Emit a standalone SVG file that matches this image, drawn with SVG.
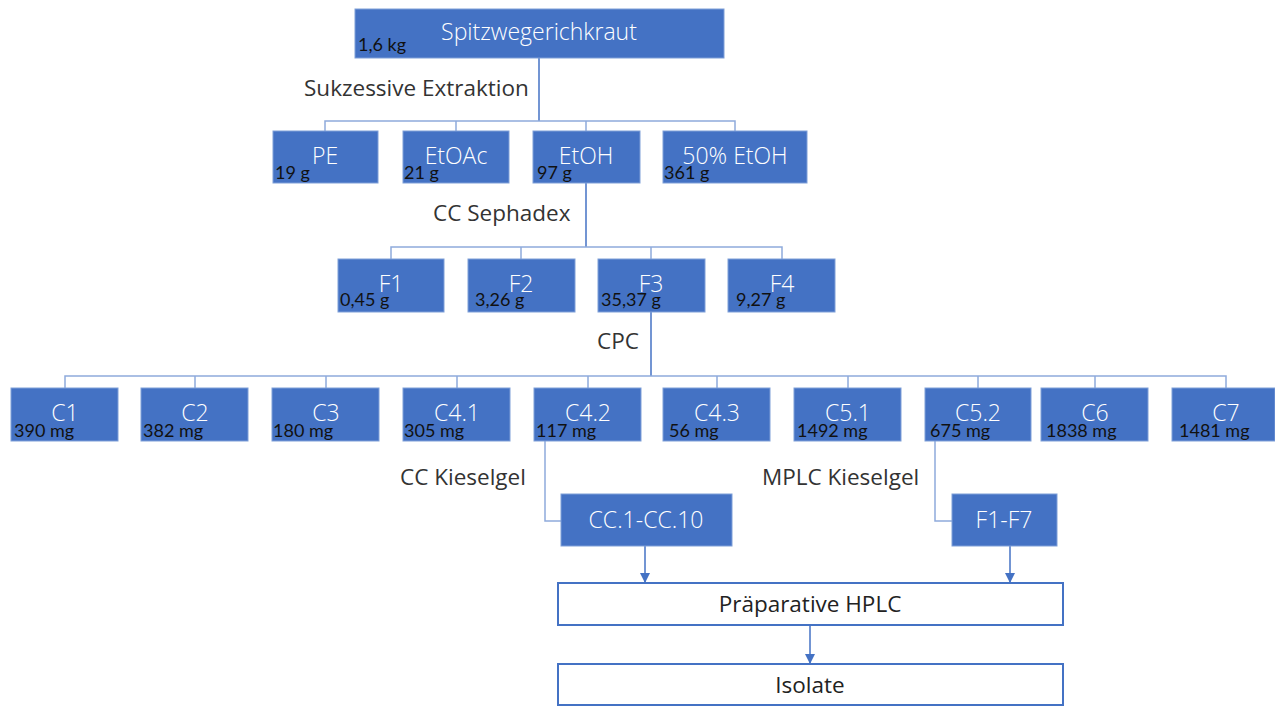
<svg xmlns="http://www.w3.org/2000/svg" width="1275" height="708" viewBox="0 0 1275 708">
<style>
.b{fill:#4472C4;stroke:#7E9FD8;stroke-width:1}
.w{fill:#FFFFFF;stroke:#4472C4;stroke-width:2}
.t{font-family:"Open Sans","Liberation Sans",sans-serif;font-size:23px;font-weight:300;fill:#FFFFFF;text-anchor:middle}
.tk{font-family:"Open Sans","Liberation Sans",sans-serif;font-size:22.5px;fill:#222222;text-anchor:middle}
.n{font-family:Lato,"Liberation Sans",sans-serif;font-size:18px;fill:#111111}
.l{font-family:"Open Sans","Liberation Sans",sans-serif;font-size:22.5px;fill:#333333}
.c{fill:none;stroke:#8FAADC;stroke-width:1.5}
.m{fill:none;stroke:#4472C4;stroke-width:1.5}
</style>
<defs>
<marker id="ah" markerWidth="10" markerHeight="10" refX="9" refY="5" orient="auto" markerUnits="userSpaceOnUse" viewBox="0 0 10 10">
<path d="M0,0 L10,5 L0,10 z" fill="#4472C4"/>
</marker>
</defs>
<g id="connectors">
<path class="m" d="M539,58 V121"/>
<path class="c" d="M325,131 V121 H735 V131 M456,121 V131 M586,121 V131"/>
<path class="m" d="M586,183 V247"/>
<path class="c" d="M391,259 V247 H782 V259 M521,247 V259 M651,247 V259"/>
<path class="m" d="M651,312 V376"/>
<path class="c" d="M65,388 V376 H1226 V388 M195,376 V388 M326,376 V388 M457,376 V388 M588,376 V388 M717,376 V388 M848,376 V388 M978,376 V388 M1095,376 V388"/>
<path class="c" d="M545,441 V521 H561"/>
<path class="c" d="M935,441 V521 H952"/>
<path class="m" d="M645,546 V582" marker-end="url(#ah)"/>
<path class="m" d="M1010,546 V582" marker-end="url(#ah)"/>
<path class="m" d="M810,625 V663" marker-end="url(#ah)"/>
</g>
<g id="labels">
<text class="l" x="304" y="96">Sukzessive Extraktion</text>
<text class="l" x="433" y="221">CC Sephadex</text>
<text class="l" x="597" y="349">CPC</text>
<text class="l" x="400" y="485">CC Kieselgel</text>
<text class="l" x="762" y="485">MPLC Kieselgel</text>
</g>
<g id="n-top"><rect class="b" x="355" y="9" width="369" height="49"/><text class="t" x="539" y="40">Spitzwegerichkraut</text><text class="n" x="358" y="51">1,6 kg</text></g>
<g id="n-pe"><rect class="b" x="273" y="131" width="105" height="52"/><text class="t" x="325" y="164">PE</text><text class="n" x="275" y="179">19 g</text></g>
<g id="n-etoac"><rect class="b" x="403" y="131" width="106" height="52"/><text class="t" x="456" y="164">EtOAc</text><text class="n" x="404" y="179">21 g</text></g>
<g id="n-etoh"><rect class="b" x="533" y="131" width="107" height="52"/><text class="t" x="586" y="164">EtOH</text><text class="n" x="537" y="179">97 g</text></g>
<g id="n-etoh50"><rect class="b" x="663" y="131" width="144" height="52"/><text class="t" x="735" y="164">50% EtOH</text><text class="n" x="664" y="179">361 g</text></g>
<g id="n-f1"><rect class="b" x="338" y="259" width="106" height="53"/><text class="t" x="391" y="292">F1</text><text class="n" x="340" y="306">0,45 g</text></g>
<g id="n-f2"><rect class="b" x="468" y="259" width="107" height="53"/><text class="t" x="521" y="292">F2</text><text class="n" x="475" y="306">3,26 g</text></g>
<g id="n-f3"><rect class="b" x="598" y="259" width="107" height="53"/><text class="t" x="651" y="292">F3</text><text class="n" x="601" y="306">35,37 g</text></g>
<g id="n-f4"><rect class="b" x="728" y="259" width="107" height="53"/><text class="t" x="782" y="292">F4</text><text class="n" x="736" y="306">9,27 g</text></g>
<g id="n-c1"><rect class="b" x="11" y="388" width="107" height="53"/><text class="t" x="65" y="421">C1</text><text class="n" x="14" y="437">390 mg</text></g>
<g id="n-c2"><rect class="b" x="141" y="388" width="107" height="53"/><text class="t" x="195" y="421">C2</text><text class="n" x="143" y="437">382 mg</text></g>
<g id="n-c3"><rect class="b" x="272" y="388" width="107" height="53"/><text class="t" x="326" y="421">C3</text><text class="n" x="273" y="437">180 mg</text></g>
<g id="n-c41"><rect class="b" x="403" y="388" width="107" height="53"/><text class="t" x="457" y="421">C4.1</text><text class="n" x="404" y="437">305 mg</text></g>
<g id="n-c42"><rect class="b" x="534" y="388" width="107" height="53"/><text class="t" x="588" y="421">C4.2</text><text class="n" x="536" y="437">117 mg</text></g>
<g id="n-c43"><rect class="b" x="663" y="388" width="107" height="53"/><text class="t" x="717" y="421">C4.3</text><text class="n" x="669" y="437">56 mg</text></g>
<g id="n-c51"><rect class="b" x="794" y="388" width="107" height="53"/><text class="t" x="848" y="421">C5.1</text><text class="n" x="797" y="437">1492 mg</text></g>
<g id="n-c52"><rect class="b" x="925" y="388" width="106" height="53"/><text class="t" x="978" y="421">C5.2</text><text class="n" x="930" y="437">675 mg</text></g>
<g id="n-c6"><rect class="b" x="1041" y="388" width="107" height="53"/><text class="t" x="1095" y="421">C6</text><text class="n" x="1046" y="437">1838 mg</text></g>
<g id="n-c7"><rect class="b" x="1172" y="388" width="103" height="53"/><text class="t" x="1226" y="421">C7</text><text class="n" x="1179" y="437">1481 mg</text></g>
<g id="n-cc"><rect class="b" x="561" y="494" width="171" height="52"/><text class="t" x="646" y="528">CC.1-CC.10</text></g>
<g id="n-f17"><rect class="b" x="952" y="494" width="105" height="52"/><text class="t" x="1004" y="528">F1-F7</text></g>
<g id="n-hplc"><rect class="w" x="558" y="583" width="505" height="42"/><text class="tk" x="810" y="612">Präparative HPLC</text></g>
<g id="n-iso"><rect class="w" x="558" y="664" width="505" height="41"/><text class="tk" x="810" y="693">Isolate</text></g>
</svg>
